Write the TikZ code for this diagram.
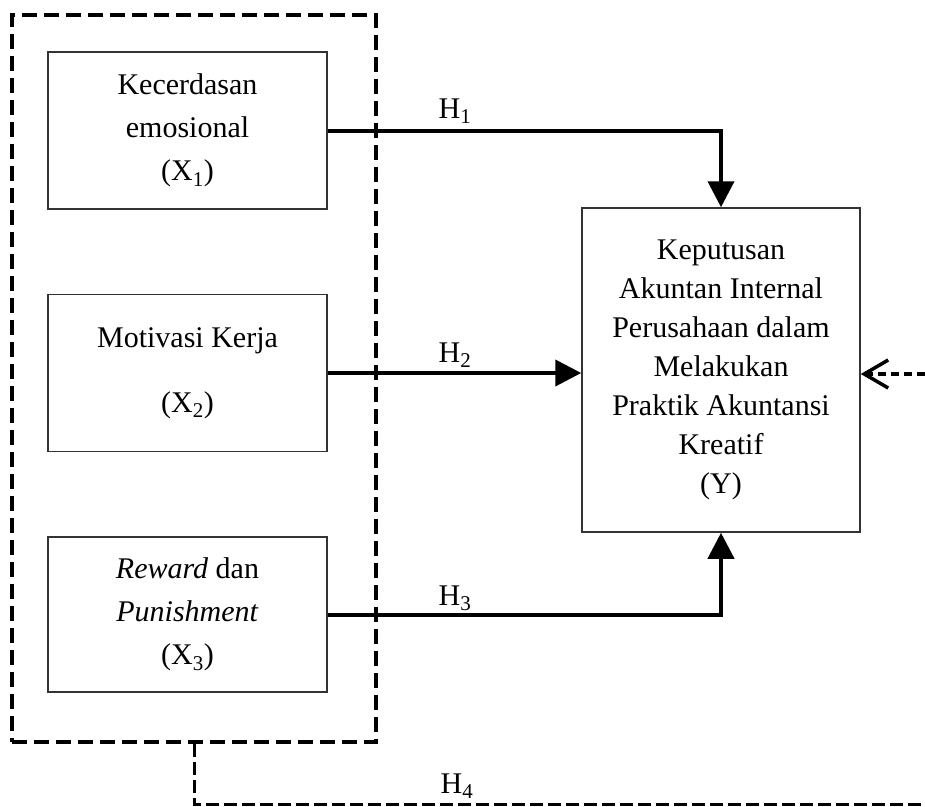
\documentclass[tikz,border=0pt]{standalone}
\usepackage{fontspec}
\setmainfont{Liberation Serif}
\usetikzlibrary{arrows.meta}
\tikzset{
	varbox/.style={draw=black!80, line width=1.5pt, minimum width=279pt, align=center, inner sep=0pt, font=\fontsize{30}{43}\selectfont},
	hline/.style={line width=4pt, -{Triangle[length=26pt,width=26pt]}},
	hlabel/.style={font=\fontsize{30}{36}\selectfont, inner sep=0pt, anchor=base},
}

\begin{document}
\begin{tikzpicture}[x=1pt, y=-1pt]
			%%%%% START %%%%%
			\useasboundingbox (0, 0) rectangle (925, 806);
			
			\node[draw, dash pattern=on 15pt off 7pt, line width=4.5pt, minimum width=364pt, minimum height=727pt] (outer) at (194, 378.5) {};
			
			\node[varbox, minimum height=157pt] (x1) at (187.5, 130.5) {Kecerdasan\\emosional\\(X\textsubscript{1})};
			\node[varbox, minimum height=157pt] (x2) at (187.5, 373) {Motivasi Kerja\\[22pt](X\textsubscript{2})};
			\node[varbox, minimum height=155pt] (x3) at (187.5, 614.5) {\textit{Reward} dan\\\textit{Punishment}\\(X\textsubscript{3})};
			
			\node[varbox, minimum width=278pt, minimum height=324pt, font=\fontsize{30}{39}\selectfont] (y) at (721, 370) {Keputusan\\Akuntan Internal\\Perusahaan dalam\\Melakukan\\Praktik Akuntansi\\Kreatif\\(Y)};
			
			\draw[hline] (x1.east) -| (y.north);
			\draw[hline] (x2.east) -- (x2.east -| y.west);
			\draw[hline] (x3.east) -| (y.south);
			
			\coordinate (c1) at (925, 804);
			\coordinate (c2) at (925, 374);
			\draw[line width=3pt, dash pattern=on 13pt off 5pt] (outer.south) |- (c1);
			\draw[line width=3.5pt, dash pattern=on 8pt off 5pt, -{Straight Barb[length=24pt,width=28pt]}] (c2) -- (c2 -| y.east);
			
			\node[hlabel] (h1) at (455, 118) {H\textsubscript{1}};
			\node[hlabel] (h2) at (455, 362) {H\textsubscript{2}};
			\node[hlabel] (h3) at (455, 605) {H\textsubscript{3}};
			\node[hlabel] (h4) at (457, 793) {H\textsubscript{4}};
			%%%%% END %%%%%
		\end{tikzpicture}
\end{document}
